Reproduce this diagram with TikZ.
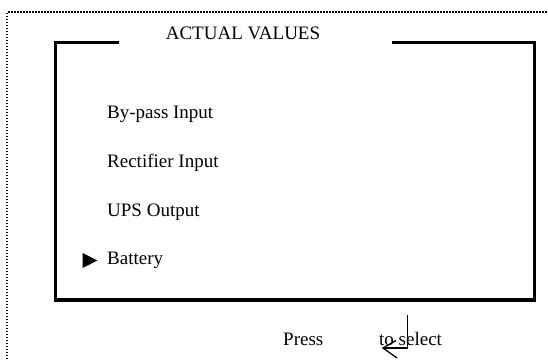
\documentclass[tikz,border=0pt]{standalone}
\usepackage{fontspec}
\setmainfont{Liberation Serif}
\begin{document}
\begin{tikzpicture}[x=1pt,y=-1pt,
  lbl/.style={inner sep=0pt, font=\fontsize{19}{22}\selectfont},
  frameline/.style={line width=3.2pt},
  dotline/.style={line width=1.5pt, dash pattern=on 1.5pt off 1.5pt},
  retsym/.style={line width=1.3pt}]
\useasboundingbox (0,0) rectangle (548,360);
% dotted outer border (left and top only visible)
\draw[dotline] (7,362) -- (7,12) -- (552,12);
% frame with gap for title
\draw[frameline] (119,42.7) -- (55.3,42.7) -- (55.3,300) -- (534.5,300) -- (534.5,42.7) -- (392,42.7);
\node[lbl, anchor=base] (title) at (243,39) {ACTUAL VALUES};
\node[lbl, anchor=base west] (bypass) at (107,118) {By-pass Input};
\node[lbl, anchor=base west] (rect) at (107,167) {Rectifier Input};
\node[lbl, anchor=base west] (ups) at (107,216) {UPS Output};
\node[lbl, anchor=base west] (batt) at (107,264) {Battery};
\fill (82.7,253) -- (97.3,260.5) -- (82.7,268) -- cycle;
\node[lbl, anchor=base west] (press) at (283,345) {Press};
\node[lbl, anchor=base west] (sel) at (379,345) {to select};
% return symbol
\draw[retsym] (407.7,315) -- (407.7,348) -- (383,348);
\draw[retsym] (396,340.5) -- (383,348) -- (397,358);
\end{tikzpicture}
\end{document}
